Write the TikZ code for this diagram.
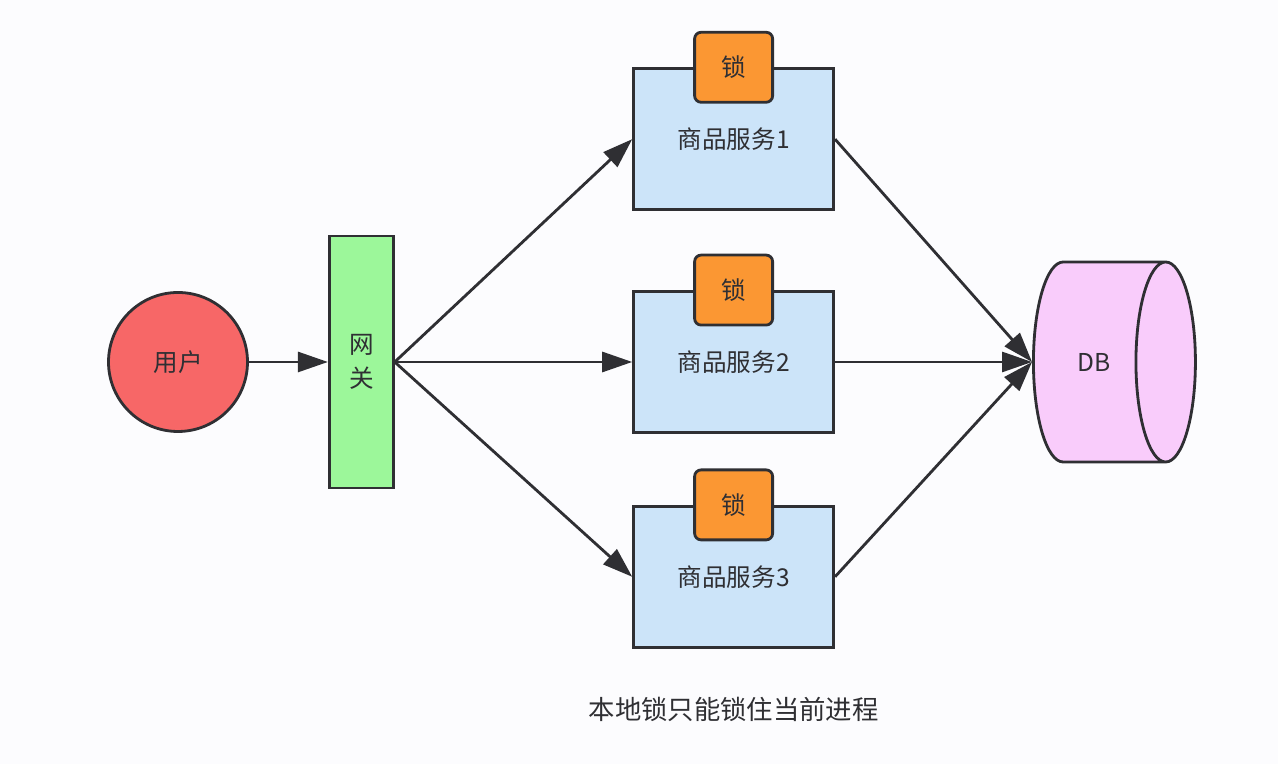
\documentclass[tikz,border=0pt]{standalone}
\usepackage{fontspec}
\setmainfont{Noto Sans CJK SC}
\usetikzlibrary{shapes.geometric,positioning,arrows.meta}
\definecolor{inkline}{HTML}{2F2F33}
\definecolor{userred}{HTML}{F76767}
\definecolor{gwgreen}{HTML}{9CF79A}
\definecolor{svcblue}{HTML}{CCE4F9}
\definecolor{lockorange}{HTML}{FB9733}
\definecolor{dbpink}{HTML}{F9CCFB}
\definecolor{paper}{HTML}{FCFCFE}

\begin{document}
\begin{tikzpicture}[
    every node/.style={font=\fontsize{14pt}{19pt}\selectfont, text=inkline},
    user/.style={circle, draw=inkline, line width=1.6pt, fill=userred, minimum size=2.78cm},
    gateway/.style={rectangle, draw=inkline, line width=1.6pt, fill=gwgreen,
                    minimum width=1.28cm, minimum height=5.04cm, align=center},
    service/.style={rectangle, draw=inkline, line width=1.6pt, fill=svcblue,
                    minimum width=4cm, minimum height=2.82cm},
    lockbox/.style={rectangle, draw=inkline, line width=1.6pt, fill=lockorange,
                    rounded corners=0.13cm, minimum width=1.56cm, minimum height=1.4cm},
    store/.style={cylinder, draw=inkline, line width=1.6pt, fill=dbpink, shape aspect=2,
                  minimum width=4cm, minimum height=3.24cm},
    arrow/.style={-{Triangle[length=6mm,width=4mm]}, line width=1.6pt, inkline},
]
\fill[paper] (0,0) rectangle (25.56,15.28);
\useasboundingbox (0,0) rectangle (25.56,15.28);

\node[user] (user) at (3.56,8.04) {用户};
\node[gateway, right=1.58cm of user] (gw) {网\\关};
\node[service, right=4.75cm of gw] (svc2) {商品服务2};
\node[service, above=1.58cm of svc2] (svc1) {商品服务1};
\node[service, below=1.42cm of svc2] (svc3) {商品服务3};
\node[lockbox] (lock1) at (svc1.north) {锁};
\node[lockbox] (lock2) at (svc2.north) {锁};
\node[lockbox] (lock3) at (svc3.north) {锁};
\node[store, right=3.94cm of svc2] (db) {DB};
\node[below=0.85cm of svc3, font=\fontsize{15pt}{18pt}\selectfont] (note) {本地锁只能锁住当前进程};

\draw[arrow] (user) -- (gw);
\draw[arrow] (gw.east) -- (svc1.west);
\draw[arrow] (gw.east) -- (svc2.west);
\draw[arrow] (gw.east) -- (svc3.west);
\draw[arrow] (svc1.east) -- (db.west);
\draw[arrow] (svc2.east) -- (db.west);
\draw[arrow] (svc3.east) -- (db.west);
\end{tikzpicture}
\end{document}
